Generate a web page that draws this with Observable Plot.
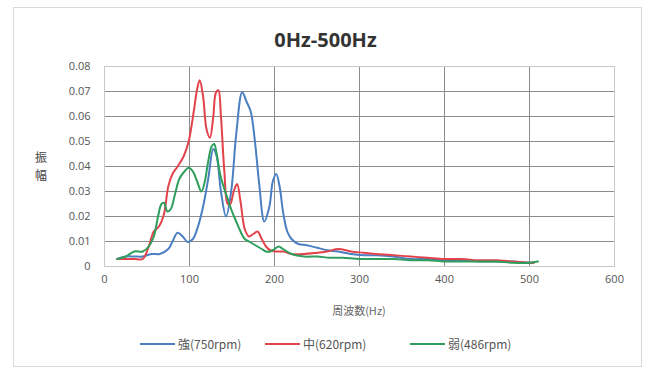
<!DOCTYPE html>
<html><head><meta charset="utf-8">
<script src="https://cdn.jsdelivr.net/npm/d3@7"></script>
<script src="https://cdn.jsdelivr.net/npm/@observablehq/plot@0.6"></script>
<style>
body{margin:0;background:#fff;font-family:"Open Sans","Noto Sans CJK JP",sans-serif;}
#wrap{position:relative;width:651px;height:367px;overflow:hidden;}
#frame{position:absolute;left:13px;top:7px;width:629px;height:360px;border:1px solid #d9d9d9;box-sizing:border-box;}
#title{position:absolute;left:0;width:651px;top:26px;text-align:center;font:bold 20px "Open Sans","Noto Sans CJK JP",sans-serif;color:#333;}
#chart{position:absolute;left:0;top:56px;}
#ylab{position:absolute;left:33px;top:148px;width:16px;font:12px "Noto Sans CJK JP",sans-serif;color:#444;line-height:18px;text-align:center;}
#xlab{position:absolute;left:259px;width:200px;top:302px;text-align:center;font:11px "Noto Sans CJK JP",sans-serif;color:#666;}
#legend{position:absolute;top:335px;left:0;width:651px;font:12px "Noto Sans CJK JP",sans-serif;color:#555;}
.item{position:absolute;display:flex;align-items:center;}
.sw{display:inline-block;width:35px;height:2px;margin-right:3px;}
</style></head>
<body><div id="wrap">
<div id="frame"></div>
<div id="title">0Hz-500Hz</div>
<div id="chart"></div>
<div id="ylab"><div>振</div><div>幅</div></div>
<div id="xlab">周波数(Hz)</div>
<div id="legend"></div>
</div>
<script>
const seriesNames = ["強(750rpm)", "中(620rpm)", "弱(486rpm)"];
const colors = ["#4a7fc1", "#e2434b", "#2f9e5c"];

const strongFreq = [15,25,35,45,55,65,75,80,86,92,98,104,110,116,122,128,132,137,143,149,155,162,167,172,177,182,188,194,198,202,206,210,215,220,228,238,250,262,275,290,305,320,340,360,380,400,420,440,460,480,500,505];
const strongAmp  = [0.003,0.004,0.004,0.004,0.005,0.005,0.007,0.010,0.0135,0.012,0.0098,0.011,0.016,0.024,0.035,0.047,0.044,0.030,0.020,0.030,0.053,0.0697,0.066,0.062,0.050,0.033,0.018,0.024,0.034,0.037,0.032,0.022,0.014,0.011,0.009,0.0085,0.0075,0.0065,0.006,0.005,0.0045,0.0045,0.004,0.003,0.003,0.0025,0.0025,0.002,0.002,0.002,0.0015,0.0015];

const midFreq = [15,25,35,45,52,58,64,70,75,80,86,93,99,105,109,112,116,120,124,128,131,134,137,141,145,148,152,156,160,165,170,175,180,185,190,195,202,210,220,235,250,262,275,290,305,320,340,360,380,400,420,440,460,480,500,505];
const midAmp  = [0.003,0.003,0.003,0.003,0.008,0.014,0.016,0.021,0.032,0.037,0.040,0.044,0.050,0.062,0.071,0.0745,0.068,0.055,0.0515,0.060,0.0695,0.0705,0.060,0.038,0.025,0.025,0.030,0.033,0.026,0.015,0.012,0.013,0.014,0.011,0.008,0.0065,0.006,0.006,0.005,0.005,0.0055,0.006,0.007,0.006,0.0055,0.005,0.0045,0.004,0.0035,0.003,0.003,0.0025,0.0025,0.002,0.0015,0.0015];

const weakFreq = [15,25,35,45,52,58,63,67,70,74,78,83,88,94,99,104,109,114,118,122,126,129,132,136,140,145,150,155,160,165,170,175,180,185,190,195,200,205,210,220,235,250,265,280,300,320,340,360,380,400,420,440,460,480,500,510];
const weakAmp  = [0.003,0.004,0.006,0.006,0.008,0.012,0.020,0.025,0.0255,0.022,0.023,0.029,0.035,0.038,0.0395,0.038,0.034,0.030,0.034,0.042,0.048,0.049,0.045,0.037,0.032,0.027,0.022,0.018,0.014,0.011,0.010,0.009,0.008,0.007,0.006,0.006,0.007,0.008,0.007,0.005,0.004,0.004,0.0035,0.0035,0.003,0.003,0.003,0.0025,0.0025,0.002,0.002,0.002,0.002,0.0015,0.0015,0.002];

const xTicks = [0,100,200,300,400,500,600];
const yTicks = [0,0.01,0.02,0.03,0.04,0.05,0.06,0.07,0.08];

const build = (f, a, s) => f.map((x, i) => ({freq: x, amp: a[i], series: s}));
const data = [
  ...build(strongFreq, strongAmp, seriesNames[0]),
  ...build(midFreq, midAmp, seriesNames[1]),
  ...build(weakFreq, weakAmp, seriesNames[2])
];

const chart = Plot.plot({
  width: 651,
  height: 240,
  marginLeft: 104,
  marginRight: 37,
  marginTop: 10,
  marginBottom: 30,
  style: {fontFamily: "'Open Sans', sans-serif", fontSize: "11px", color: "#555", background: "transparent"},
  x: {domain: [0, 600], ticks: xTicks, label: null, tickSize: 0, tickPadding: 9},
  y: {domain: [0, 0.08], ticks: yTicks, label: null, tickSize: 0, tickPadding: 14,
      tickFormat: d => d === 0 ? "0" : d3.format(".2f")(d)},
  color: {domain: seriesNames, range: colors},
  marks: [
    Plot.gridY(yTicks, {stroke: "#8c8c8c", strokeOpacity: 1}),
    Plot.gridX(xTicks, {stroke: "#8c8c8c", strokeOpacity: 1}),
    Plot.frame({stroke: "#c8c8c8"}),
    Plot.line(data, {x: "freq", y: "amp", z: "series", stroke: "series", strokeWidth: 2, curve: "catmull-rom"})
  ]
});
document.getElementById("chart").appendChild(chart);

const legendPos = [[140, 177], [265, 300], [410, 445]];
const leg = document.getElementById("legend");
seriesNames.forEach((n, i) => {
  const it = document.createElement("div");
  it.className = "item";
  it.style.left = legendPos[i][0] + "px";
  const sw = document.createElement("span");
  sw.className = "sw";
  sw.style.background = colors[i];
  const t = document.createElement("span");
  t.textContent = n;
  it.appendChild(sw); it.appendChild(t);
  leg.appendChild(it);
});
</script>
</body></html>
